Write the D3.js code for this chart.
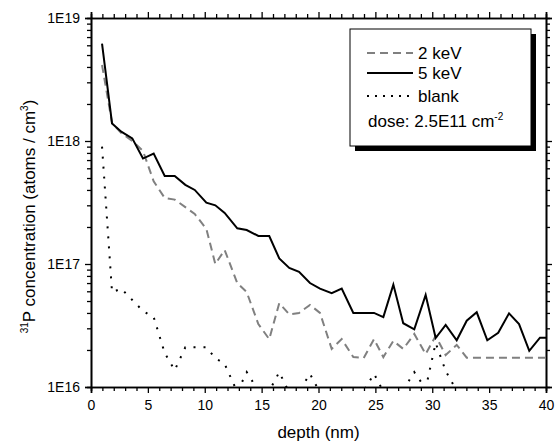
<!DOCTYPE html>
<html>
<head>
<meta charset="utf-8">
<script src="https://cdn.jsdelivr.net/npm/d3@7"></script>
<style>
  body { margin: 0; background: #fff; }
  svg { font-family: Arial, "Liberation Sans", sans-serif; }
</style>
</head>
<body>
<div id="my_dataviz"></div>
<script>
// depth values (nm)
var depth = [0.97, 1.85, 2.66, 3.63, 4.57, 5.51, 6.48, 7.36, 8.29, 9.12,
  10.14, 10.93, 11.75, 12.86, 13.69, 14.71, 15.67, 16.55, 17.43, 18.29,
  19.25, 20.13, 21.16, 22.04, 23.06, 23.97, 24.88, 25.70, 26.58, 27.45,
  28.42, 29.42, 30.30, 31.18, 32.15, 33.03, 33.91, 34.84, 35.80, 36.75,
  37.63, 38.53, 39.47, 40.06];

// 2 keV implant
var kev2 = [4.15e18, 1.4e18, 1.16e18, 1.0e18, 8.3e17, 4.7e17, 3.44e17, 3.34e17, 2.9e17, 2.55e17,
  1.93e17, 1.0e17, 1.3e17, 7.0e16, 5.9e16, 3.25e16, 2.45e16, 4.8e16, 3.9e16, 4.0e16,
  4.65e16, 4.0e16, 2.04e16, 2.45e16, 1.75e16, 1.72e16, 2.45e16, 1.75e16, 2.37e16, 2.04e16,
  2.7e16, 1.85e16, 2.6e16, 1.82e16, 2.2e16, 1.73e16, 1.73e16, 1.73e16, 1.73e16, 1.73e16,
  1.73e16, 1.73e16, 1.73e16, 1.73e16];

// 5 keV implant
var kev5 = [6.2e18, 1.39e18, 1.19e18, 1.05e18, 7.2e17, 7.9e17, 5.2e17, 5.2e17, 4.4e17, 4.0e17,
  3.15e17, 3.0e17, 2.6e17, 1.95e17, 1.89e17, 1.69e17, 1.69e17, 1.11e17, 9.3e16, 8.65e16,
  7.0e16, 6.3e16, 5.8e16, 6.3e16, 4.0e16, 4.0e16, 4.0e16, 3.7e16, 6.8e16, 3.3e16,
  2.94e16, 5.6e16, 2.5e16, 3.2e16, 2.4e16, 3.46e16, 4.05e16, 2.4e16, 2.76e16, 3.97e16,
  3.25e16, 1.97e16, 2.52e16, 2.52e16];

// blank sample
var blank = [9.0e17, 5.9e16, 6.3e16, 5.1e16, 4.15e16, 3.7e16, 1.89e16, 1.37e16, 2.1e16, 2.1e16,
  2.1e16, 1.72e16, 1.54e16, 9.1e15, 1.32e16, 9.3e15, 9.3e15, 1.32e16, 9.0e15, 9.2e15,
  1.28e16, 9.0e15, 8.0e15, 8.0e15, 8.0e15, 9.3e15, 1.28e16, 9.2e15, 8.5e15, 9.5e15,
  1.32e16, 9.7e15, 2.28e16, 1.35e16, 9.3e15, 8.0e15, 8.0e15, 8.0e15, 8.0e15, 8.0e15,
  8.0e15, 8.0e15, 8.0e15, 8.0e15];

var xMajor = [0, 5, 10, 15, 20, 25, 30, 35, 40];
var yMajor = [1e16, 1e17, 1e18, 1e19];
var legendNames = ["2 keV", "5 keV", "blank"];

// set the dimensions and margins of the graph
var margin = {top: 18, right: 9, bottom: 58, left: 91},
    width = 555 - margin.left - margin.right,
    height = 445 - margin.top - margin.bottom;

var svg = d3.select("#my_dataviz")
  .append("svg")
    .attr("width", 555)
    .attr("height", 445)
  .append("g")
    .attr("transform", "translate(" + margin.left + "," + margin.top + ")");

var x = d3.scaleLinear().domain([0, 40]).range([0, width]);
var y = d3.scaleLog().domain([1e16, 1e19]).range([height, 0]);

// minor ticks
var xMinor = d3.range(0, 41, 1).filter(function(d) { return d % 5 != 0; });
var yMinor = [];
[1e16, 1e17, 1e18].forEach(function(p) {
  for (var k = 2; k <= 9; k++) yMinor.push(p * k);
});

function styleAxis(g) {
  g.select(".domain").attr("stroke-width", 1.6);
  g.selectAll(".tick line").attr("stroke-width", 1.3);
  g.selectAll("text").style("font-size", "14px").attr("fill", "#000");
}

// bottom axis
svg.append("g")
  .attr("transform", "translate(0," + height + ")")
  .call(d3.axisBottom(x).tickValues(xMajor).tickSize(6).tickPadding(7).tickFormat(d3.format("d")))
  .call(styleAxis);
svg.append("g")
  .attr("transform", "translate(0," + height + ")")
  .call(d3.axisBottom(x).tickValues(xMinor).tickSize(4).tickFormat(""))
  .call(styleAxis);

// top axis
svg.append("g")
  .call(d3.axisTop(x).tickValues(xMajor).tickSize(6).tickFormat(""))
  .call(styleAxis);
svg.append("g")
  .call(d3.axisTop(x).tickValues(xMinor).tickSize(4).tickFormat(""))
  .call(styleAxis);

// left axis
svg.append("g")
  .call(d3.axisLeft(y).tickValues(yMajor).tickSize(6).tickPadding(5)
    .tickFormat(function(d) { return "1E" + Math.round(Math.log10(d)); }))
  .call(styleAxis);
svg.append("g")
  .call(d3.axisLeft(y).tickValues(yMinor).tickSize(4).tickFormat(""))
  .call(styleAxis);

// right axis
svg.append("g")
  .attr("transform", "translate(" + width + ",0)")
  .call(d3.axisRight(y).tickValues(yMajor).tickSize(6).tickFormat(""))
  .call(styleAxis);
svg.append("g")
  .attr("transform", "translate(" + width + ",0)")
  .call(d3.axisRight(y).tickValues(yMinor).tickSize(4).tickFormat(""))
  .call(styleAxis);

// clip the curves to the plot frame
svg.append("clipPath").attr("id", "clip")
  .append("rect").attr("width", width).attr("height", height);

var line = d3.line()
  .x(function(d) { return x(d[0]); })
  .y(function(d) { return y(d[1]); });

var plot = svg.append("g").attr("clip-path", "url(#clip)");

plot.append("path")
  .datum(d3.zip(depth, blank))
  .attr("fill", "none")
  .attr("stroke", "#000")
  .attr("stroke-width", 2)
  .attr("stroke-dasharray", "2,8")
  .attr("d", line);

plot.append("path")
  .datum(d3.zip(depth, kev2))
  .attr("fill", "none")
  .attr("stroke", "#808080")
  .attr("stroke-width", 2)
  .attr("stroke-dasharray", "8,5")
  .attr("d", line);

plot.append("path")
  .datum(d3.zip(depth, kev5))
  .attr("fill", "none")
  .attr("stroke", "#000")
  .attr("stroke-width", 2)
  .attr("d", line);

// axis titles
svg.append("text")
  .attr("x", width / 2)
  .attr("y", height + 51)
  .attr("text-anchor", "middle")
  .style("font-size", "17px")
  .text("depth (nm)");

var yt = svg.append("text")
  .attr("transform", "translate(" + (35 - margin.left) + "," + (height / 2 + 14) + ") rotate(-90)")
  .attr("text-anchor", "middle")
  .style("font-size", "17px");
yt.append("tspan").attr("dy", "-7").style("font-size", "10px").text("31");
yt.append("tspan").attr("dy", "7").text("P concentration (atoms / cm");
yt.append("tspan").attr("dy", "-7").style("font-size", "10px").text("3");
yt.append("tspan").attr("dy", "7").text(")");

// legend
var lg = svg.append("g").attr("transform", "translate(" + (350 - margin.left) + "," + (29 - margin.top) + ")");
lg.append("rect").attr("x", 5).attr("y", 5).attr("width", 181).attr("height", 117).attr("fill", "#000");
lg.append("rect").attr("width", 181).attr("height", 117)
  .attr("fill", "#fff").attr("stroke", "#000").attr("stroke-width", 1);

var legStyles = [
  {stroke: "#808080", dash: "8,5"},
  {stroke: "#000", dash: null},
  {stroke: "#000", dash: "2,6"}
];
var legY = [24, 44, 67];
legendNames.forEach(function(name, i) {
  lg.append("line")
    .attr("x1", 17).attr("x2", 63)
    .attr("y1", legY[i]).attr("y2", legY[i])
    .attr("stroke", legStyles[i].stroke)
    .attr("stroke-width", 2)
    .attr("stroke-dasharray", legStyles[i].dash);
  lg.append("text")
    .attr("x", 68).attr("y", legY[i] + 6)
    .style("font-size", "17px")
    .text(name);
});
var dose = lg.append("text").attr("x", 18).attr("y", 98).style("font-size", "17px");
dose.append("tspan").text("dose: 2.5E11 cm");
dose.append("tspan").attr("dy", "-7").style("font-size", "10px").text("-2");
</script>
</body>
</html>
